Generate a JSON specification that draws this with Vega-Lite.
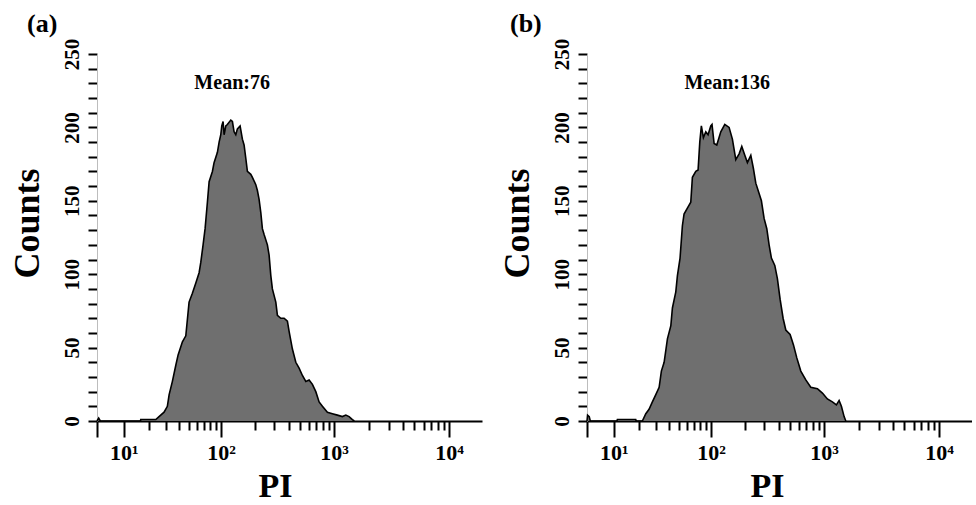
{
  "$schema": "https://vega.github.io/schema/vega-lite/v6.json",
  "padding": {"left": 8, "top": 11, "right": 0, "bottom": 0},
  "spacing": 16,
  "config": {
    "view": {"stroke": null},
    "font": "Liberation Serif",
    "title": {"font": "Liberation Serif", "fontWeight": "bold", "fontSize": 26, "color": "black"},
    "axis": {"labelFont": "Liberation Serif", "titleFont": "Liberation Serif", "labelColor": "black", "titleColor": "black", "grid": false}
  },
  "datasets": {
    "a": [
      {"pi": 3.8, "count": 0}, {"pi": 4.1, "count": 2}, {"pi": 4.4, "count": 0},
      {"pi": 16.0, "count": 0}, {"pi": 16.1, "count": 1}, {"pi": 23.5, "count": 1}, {"pi": 25.4, "count": 3},
      {"pi": 28.6, "count": 6}, {"pi": 30.9, "count": 10}, {"pi": 32.2, "count": 18}, {"pi": 34.7, "count": 27},
      {"pi": 37.5, "count": 38}, {"pi": 39.5, "count": 45}, {"pi": 43.5, "count": 54}, {"pi": 46.9, "count": 58},
      {"pi": 50.4, "count": 81}, {"pi": 54.2, "count": 87}, {"pi": 58.4, "count": 94}, {"pi": 62.7, "count": 101},
      {"pi": 65.0, "count": 108}, {"pi": 68.3, "count": 120}, {"pi": 71.3, "count": 131}, {"pi": 74.9, "count": 149},
      {"pi": 77.7, "count": 163}, {"pi": 83.3, "count": 170}, {"pi": 86.3, "count": 176}, {"pi": 92.6, "count": 183},
      {"pi": 96.0, "count": 190}, {"pi": 99.4, "count": 195}, {"pi": 101.5, "count": 201}, {"pi": 104.3, "count": 204},
      {"pi": 106.6, "count": 195}, {"pi": 110.4, "count": 201}, {"pi": 114.1, "count": 202}, {"pi": 122.5, "count": 205},
      {"pi": 126.7, "count": 204}, {"pi": 131.2, "count": 197}, {"pi": 135.9, "count": 195}, {"pi": 140.5, "count": 199},
      {"pi": 148.6, "count": 201}, {"pi": 155.8, "count": 192}, {"pi": 161.3, "count": 188}, {"pi": 167.1, "count": 179},
      {"pi": 172.7, "count": 170}, {"pi": 185.2, "count": 168}, {"pi": 191.4, "count": 166}, {"pi": 205.2, "count": 161},
      {"pi": 212.0, "count": 157}, {"pi": 219.5, "count": 151}, {"pi": 227.3, "count": 142}, {"pi": 234.8, "count": 131},
      {"pi": 243.1, "count": 127}, {"pi": 260.0, "count": 120}, {"pi": 269.2, "count": 113}, {"pi": 278.7, "count": 99},
      {"pi": 287.8, "count": 90}, {"pi": 308.5, "count": 81}, {"pi": 318.7, "count": 72}, {"pi": 341.4, "count": 70},
      {"pi": 365.0, "count": 70}, {"pi": 390.2, "count": 68}, {"pi": 403.9, "count": 61}, {"pi": 431.8, "count": 49},
      {"pi": 462.5, "count": 40}, {"pi": 494.4, "count": 36}, {"pi": 528.4, "count": 31}, {"pi": 565.9, "count": 27},
      {"pi": 604.8, "count": 28}, {"pi": 646.4, "count": 25}, {"pi": 692.2, "count": 20}, {"pi": 739.8, "count": 13},
      {"pi": 790.5, "count": 10}, {"pi": 874.1, "count": 6}, {"pi": 966.6, "count": 5}, {"pi": 1068, "count": 4},
      {"pi": 1181, "count": 3}, {"pi": 1265, "count": 4}, {"pi": 1351, "count": 3}, {"pi": 1444, "count": 1},
      {"pi": 1500, "count": 0}
    ],
    "b": [
      {"pi": 3.8, "count": 0}, {"pi": 3.9, "count": 4}, {"pi": 4.2, "count": 3}, {"pi": 4.4, "count": 0},
      {"pi": 11.0, "count": 0}, {"pi": 11.15, "count": 1}, {"pi": 18.3, "count": 1}, {"pi": 18.5, "count": 0},
      {"pi": 21.6, "count": 0}, {"pi": 23.5, "count": 5}, {"pi": 25.4, "count": 8}, {"pi": 27.5, "count": 13},
      {"pi": 29.8, "count": 18}, {"pi": 32.2, "count": 23}, {"pi": 33.9, "count": 34}, {"pi": 36.1, "count": 40},
      {"pi": 38.9, "count": 56}, {"pi": 42.0, "count": 65}, {"pi": 43.5, "count": 77}, {"pi": 46.9, "count": 88},
      {"pi": 48.6, "count": 99}, {"pi": 51.5, "count": 111}, {"pi": 54.2, "count": 133}, {"pi": 56.2, "count": 141},
      {"pi": 60.4, "count": 145}, {"pi": 65.0, "count": 149}, {"pi": 67.3, "count": 166}, {"pi": 72.4, "count": 170},
      {"pi": 76.0, "count": 171}, {"pi": 78.8, "count": 190}, {"pi": 81.5, "count": 201}, {"pi": 85.1, "count": 193},
      {"pi": 89.5, "count": 197}, {"pi": 93.9, "count": 195}, {"pi": 99.4, "count": 201}, {"pi": 102.0, "count": 202},
      {"pi": 106.6, "count": 189}, {"pi": 112.7, "count": 188}, {"pi": 122.5, "count": 197}, {"pi": 133.1, "count": 202},
      {"pi": 145.5, "count": 200}, {"pi": 155.8, "count": 192}, {"pi": 167.1, "count": 178}, {"pi": 178.9, "count": 182},
      {"pi": 189.0, "count": 187}, {"pi": 201.1, "count": 181}, {"pi": 212.0, "count": 176}, {"pi": 227.3, "count": 181},
      {"pi": 239.7, "count": 172}, {"pi": 251.7, "count": 162}, {"pi": 269.2, "count": 155}, {"pi": 282.1, "count": 150},
      {"pi": 298.0, "count": 138}, {"pi": 314.8, "count": 131}, {"pi": 329.8, "count": 120}, {"pi": 345.6, "count": 111},
      {"pi": 370.2, "count": 106}, {"pi": 390.2, "count": 97}, {"pi": 412.1, "count": 83}, {"pi": 437.9, "count": 70},
      {"pi": 462.5, "count": 62}, {"pi": 504.4, "count": 59}, {"pi": 539.2, "count": 52}, {"pi": 577.5, "count": 43},
      {"pi": 625.9, "count": 34}, {"pi": 692.2, "count": 28}, {"pi": 765.4, "count": 23}, {"pi": 874.1, "count": 22},
      {"pi": 966.6, "count": 19}, {"pi": 1068, "count": 15}, {"pi": 1181, "count": 13}, {"pi": 1280, "count": 11},
      {"pi": 1351, "count": 14}, {"pi": 1415, "count": 10}, {"pi": 1494, "count": 3}, {"pi": 1546, "count": 0}
    ]
  },
  "hconcat": [
    {
      "width": 385,
      "height": 367,
      "title": {"text": "(a)", "anchor": "start", "frame": "bounds", "dx": 18, "offset": 1},
      "encoding": {
        "x": {
          "field": "pi", "type": "quantitative",
          "scale": {"type": "symlog", "constant": 5, "domain": [3.8, 19300], "nice": false, "zero": false},
          "axis": {
            "title": "PI", "titleFontSize": 34, "titleFontWeight": "bold", "titleX": 178, "titlePadding": 6,
            "values": [3.8, 10, 20, 30, 40, 50, 60, 70, 80, 90, 100, 200, 300, 400, 500, 600, 700, 800, 900, 1000, 2000, 3000, 4000, 5000, 6000, 7000, 8000, 9000, 10000],
            "labelExpr": "datum.value == 10 ? '10¹' : datum.value == 100 ? '10²' : datum.value == 1000 ? '10³' : datum.value == 10000 ? '10⁴' : ''",
            "labelFontSize": 22, "labelFontWeight": "bold", "labelPadding": 5, "labelFlush": false, "labelOverlap": false,
            "tickSize": {"condition": {"test": "datum.value < 5 || datum.value == 10 || datum.value == 100 || datum.value == 1000 || datum.value == 10000", "value": 16}, "value": 9},
            "tickWidth": 2, "tickColor": "black", "domainColor": "black", "domainWidth": 2
          }
        },
        "y": {
          "field": "count", "type": "quantitative",
          "scale": {"domain": [0, 250], "nice": false},
          "axis": {
            "title": "Counts", "titleFontSize": 36, "titleFontWeight": "bold", "titlePadding": 15, "titleY": 169,
            "values": [0, 10, 20, 30, 40, 50, 60, 70, 80, 90, 100, 110, 120, 130, 140, 150, 160, 170, 180, 190, 200, 210, 220, 230, 240, 250],
            "labelExpr": "datum.value % 50 == 0 ? datum.label : ''",
            "labelAngle": -90, "labelFontSize": 21, "labelFontWeight": "bold", "labelPadding": 6, "labelOverlap": false, "labelFlush": false,
            "tickSize": 9, "tickWidth": 2, "tickColor": "black", "domainColor": "#bdbdbd", "domainWidth": 1
          }
        }
      },
      "layer": [
        {"data": {"name": "a"}, "mark": {"type": "area", "color": "#6f6f6f", "opacity": 1}},
        {"data": {"name": "a"}, "mark": {"type": "line", "color": "black", "strokeWidth": 1.6}},
        {
          "data": {"values": [{"pi": 126, "count": 230, "label": "Mean:76"}]},
          "mark": {"type": "text", "font": "Liberation Serif", "fontWeight": "bold", "fontSize": 20, "color": "black"},
          "encoding": {"text": {"field": "label"}}
        }
      ]
    },
    {
      "width": 385,
      "height": 367,
      "title": {"text": "(b)", "anchor": "start", "frame": "bounds", "dx": 11, "offset": 1},
      "encoding": {
        "x": {
          "field": "pi", "type": "quantitative",
          "scale": {"type": "symlog", "constant": 5, "domain": [3.8, 19300], "nice": false, "zero": false},
          "axis": {
            "title": "PI", "titleFontSize": 34, "titleFontWeight": "bold", "titleX": 180, "titlePadding": 6,
            "values": [3.8, 10, 20, 30, 40, 50, 60, 70, 80, 90, 100, 200, 300, 400, 500, 600, 700, 800, 900, 1000, 2000, 3000, 4000, 5000, 6000, 7000, 8000, 9000, 10000],
            "labelExpr": "datum.value == 10 ? '10¹' : datum.value == 100 ? '10²' : datum.value == 1000 ? '10³' : datum.value == 10000 ? '10⁴' : ''",
            "labelFontSize": 22, "labelFontWeight": "bold", "labelPadding": 5, "labelFlush": false, "labelOverlap": false,
            "tickSize": {"condition": {"test": "datum.value < 5 || datum.value == 10 || datum.value == 100 || datum.value == 1000 || datum.value == 10000", "value": 16}, "value": 9},
            "tickWidth": 2, "tickColor": "black", "domainColor": "black", "domainWidth": 2
          }
        },
        "y": {
          "field": "count", "type": "quantitative",
          "scale": {"domain": [0, 250], "nice": false},
          "axis": {
            "title": "Counts", "titleFontSize": 36, "titleFontWeight": "bold", "titlePadding": 15, "titleY": 169,
            "values": [0, 10, 20, 30, 40, 50, 60, 70, 80, 90, 100, 110, 120, 130, 140, 150, 160, 170, 180, 190, 200, 210, 220, 230, 240, 250],
            "labelExpr": "datum.value % 50 == 0 ? datum.label : ''",
            "labelAngle": -90, "labelFontSize": 21, "labelFontWeight": "bold", "labelPadding": 6, "labelOverlap": false, "labelFlush": false,
            "tickSize": 9, "tickWidth": 2, "tickColor": "black", "domainColor": "#bdbdbd", "domainWidth": 1
          }
        }
      },
      "layer": [
        {"data": {"name": "b"}, "mark": {"type": "area", "color": "#6f6f6f", "opacity": 1}},
        {"data": {"name": "b"}, "mark": {"type": "line", "color": "black", "strokeWidth": 1.6}},
        {
          "data": {"values": [{"pi": 140, "count": 230, "label": "Mean:136"}]},
          "mark": {"type": "text", "font": "Liberation Serif", "fontWeight": "bold", "fontSize": 20, "color": "black"},
          "encoding": {"text": {"field": "label"}}
        }
      ]
    }
  ]
}
